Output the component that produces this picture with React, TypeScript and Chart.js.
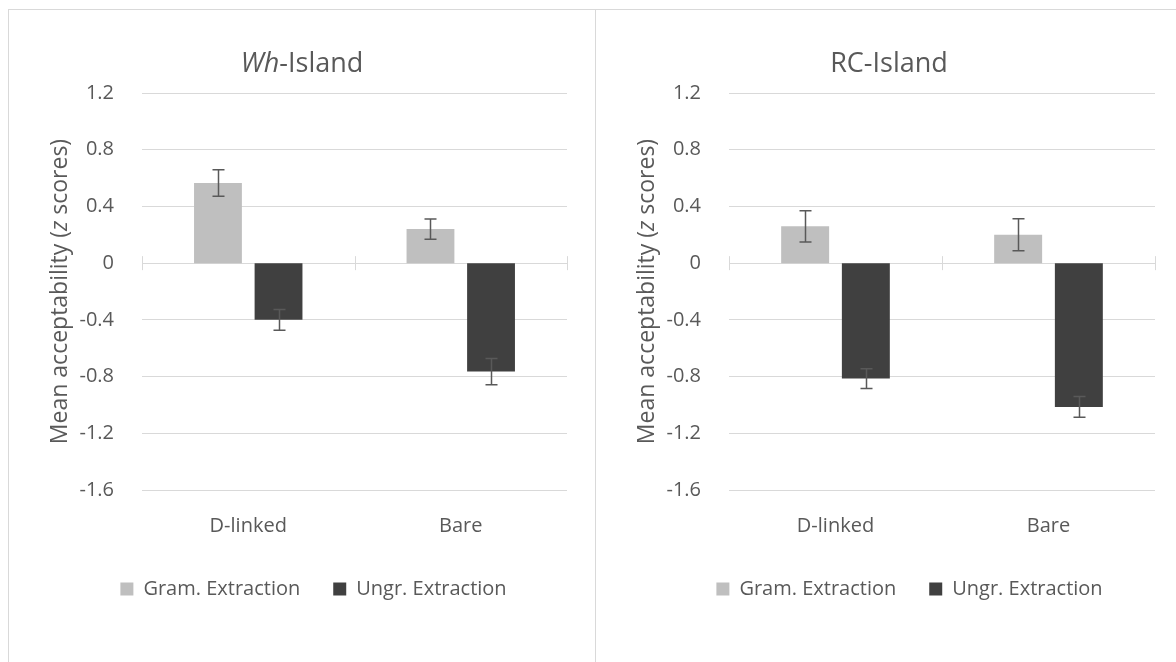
import React, { useEffect, useRef } from 'react';
import { Chart, registerables } from 'chart.js';

Chart.register(...registerables);

// ---------- data ----------
const categories = ['D-linked', 'Bare'];
const seriesLabels = ['Gram. Extraction', 'Ungr. Extraction'];
const seriesColors = ['#bfbfbf', '#404040'];

const whGram = [0.565, 0.24];
const whGramErr = [0.094, 0.072];
const whUngr = [-0.4, -0.765];
const whUngrErr = [0.073, 0.093];

const rcGram = [0.26, 0.2];
const rcGramErr = [0.11, 0.113];
const rcUngr = [-0.814, -1.014];
const rcUngrErr = [0.07, 0.073];

const yMin = -1.6;
const yMax = 1.2;
const yStep = 0.4;

const whTitle = [{ text: 'Wh', italic: true }, { text: '-Island' }];
const rcTitle = [{ text: 'RC-Island' }];
const yTitle = [{ text: 'Mean acceptability (' }, { text: 'z', italic: true }, { text: ' scores)' }];

// ---------- styles ----------
const FONT = "'Open Sans', sans-serif";
const TEXT = '#595959';
const GRID = '#d9d9d9';
const CANVAS_W = 588;
const CANVAS_H = 653;
const AREA_LEFT = 134;
const AREA_TOP = 84;
const AREA_BOTTOM = 481;

type Seg = { text: string; italic?: boolean };

function drawRich(ctx: CanvasRenderingContext2D, segs: Seg[], size: number, cx: number, cy: number) {
  const fonts = segs.map((s) => `${s.italic ? 'italic ' : ''}${size}px ${FONT}`);
  let total = 0;
  const widths = segs.map((s, i) => {
    ctx.font = fonts[i];
    const w = ctx.measureText(s.text).width;
    total += w;
    return w;
  });
  let x = cx - total / 2;
  ctx.textAlign = 'left';
  ctx.textBaseline = 'middle';
  ctx.fillStyle = TEXT;
  segs.forEach((s, i) => {
    ctx.font = fonts[i];
    ctx.fillText(s.text, x, cy);
    x += widths[i];
  });
}

type PanelProps = {
  left: number;
  title: Seg[];
  gram: number[];
  gramErr: number[];
  ungr: number[];
  ungrErr: number[];
  padRight: number;
  legendX: number;
  legendY: number;
};

function Panel(props: PanelProps) {
  const ref = useRef<HTMLCanvasElement | null>(null);

  useEffect(() => {
    if (!ref.current) return;
    const errors = [props.gramErr, props.ungrErr];

    const decor = {
      id: 'decor',
      afterLayout(chart: any) {
        const lg = chart.legend;
        if (!lg) return;
        const dx = props.legendX - (lg.left + lg.right) / 2;
        lg.left += dx;
        lg.right += dx;
        const pad = lg.options.labels.padding;
        const ih = Math.max(lg.options.labels.font.size || 20, lg.options.labels.boxHeight || 13);
        const h = lg.bottom - lg.top;
        lg.top = props.legendY - pad - ih / 2;
        lg.bottom = lg.top + h;
      },
      beforeDatasetsDraw(chart: any) {
        const ctx = chart.ctx;
        const xs = chart.scales.x;
        const ys = chart.scales.y;
        const y0 = ys.getPixelForValue(0);
        const n = categories.length;
        const half = (xs.getPixelForValue(1) - xs.getPixelForValue(0)) / 2;
        ctx.save();
        ctx.strokeStyle = GRID;
        ctx.lineWidth = 1;
        for (let i = 0; i <= n; i++) {
          const x = Math.round(xs.getPixelForValue(0) - half + i * 2 * half) + 0.5;
          ctx.beginPath();
          ctx.moveTo(x, y0 - 7);
          ctx.lineTo(x, y0 + 7);
          ctx.stroke();
        }
        ctx.restore();
      },
      afterDatasetsDraw(chart: any) {
        const ctx = chart.ctx;
        const ys = chart.scales.y;
        ctx.save();
        ctx.strokeStyle = '#595959';
        ctx.lineWidth = 1.5;
        chart.data.datasets.forEach((ds: any, di: number) => {
          const meta = chart.getDatasetMeta(di);
          meta.data.forEach((el: any, j: number) => {
            const v = ds.data[j];
            const e = errors[di][j];
            const yt = ys.getPixelForValue(v + e);
            const yb = ys.getPixelForValue(v - e);
            const x = Math.round(el.x) + 0.5;
            ctx.beginPath();
            ctx.moveTo(x, yt);
            ctx.lineTo(x, yb);
            ctx.moveTo(x - 6, yt);
            ctx.lineTo(x + 6, yt);
            ctx.moveTo(x - 6, yb);
            ctx.lineTo(x + 6, yb);
            ctx.stroke();
          });
        });
        ctx.restore();
      },
      afterDraw(chart: any) {
        const ctx = chart.ctx;
        ctx.save();
        drawRich(ctx, props.title, 27, chart.width / 2, 55);
        ctx.translate(52, (chart.chartArea.top + chart.chartArea.bottom) / 2);
        ctx.rotate(-Math.PI / 2);
        drawRich(ctx, yTitle, 23, 0, 0);
        ctx.restore();
      },
    };

    const chart = new Chart(ref.current, {
      type: 'bar',
      data: {
        labels: categories,
        datasets: [
          {
            label: seriesLabels[0],
            data: props.gram,
            backgroundColor: seriesColors[0],
            borderWidth: 0,
            categoryPercentage: 0.57,
            barPercentage: 0.79,
          },
          {
            label: seriesLabels[1],
            data: props.ungr,
            backgroundColor: seriesColors[1],
            borderWidth: 0,
            categoryPercentage: 0.57,
            barPercentage: 0.79,
          },
        ],
      },
      options: {
        responsive: false,
        animation: false,
        devicePixelRatio: 1,
        layout: { padding: { top: AREA_TOP, left: 0, right: props.padRight, bottom: 0 } },
        plugins: {
          title: { display: false },
          tooltip: { enabled: false },
          legend: {
            display: true,
            position: 'bottom',
            labels: {
              boxWidth: 13,
              boxHeight: 13,
              padding: 33,
              color: TEXT,
              font: { family: FONT, size: 20 },
            },
          },
        },
        scales: {
          x: {
            grid: { display: false },
            border: { display: false },
            ticks: { color: TEXT, font: { family: FONT, size: 20 }, padding: 16 },
            afterFit: (s: any) => {
              const lh = s.chart.legend ? s.chart.legend.height : 0;
              s.height = s.chart.height - AREA_BOTTOM - lh;
            },
          },
          y: {
            min: yMin,
            max: yMax,
            grid: { color: GRID, lineWidth: 1, drawTicks: false },
            border: { display: false },
            ticks: {
              stepSize: yStep,
              padding: 28,
              color: TEXT,
              font: { family: FONT, size: 20 },
              callback: (v: any) => (Math.abs(Number(v)) < 1e-9 ? '0' : Number(v).toFixed(1)),
            },
            afterFit: (s: any) => {
              s.width = AREA_LEFT;
            },
          },
        },
      },
      plugins: [decor],
    } as any);

    return () => chart.destroy();
  }, []);

  return (
    <div style={{ position: 'absolute', left: props.left, top: 9, width: CANVAS_W, height: 700 }}>
      <canvas
        ref={ref}
        width={CANVAS_W}
        height={CANVAS_H}
        style={{ position: 'absolute', left: 0, top: 0, width: CANVAS_W, height: CANVAS_H }}
      />
      <div
        style={{
          position: 'absolute',
          left: 0,
          top: 0,
          right: 0,
          bottom: 0,
          border: `1px solid ${GRID}`,
          boxSizing: 'border-box',
          pointerEvents: 'none',
        }}
      />
    </div>
  );
}

export default function App() {
  return (
    <div
      style={{
        position: 'fixed',
        left: 0,
        top: 0,
        width: 1176,
        height: 662,
        overflow: 'hidden',
        background: '#fff',
      }}
    >
      <Panel
        left={8}
        title={whTitle}
        gram={whGram}
        gramErr={whGramErr}
        ungr={whUngr}
        ungrErr={whUngrErr}
        padRight={29}
        legendX={305.5}
        legendY={580}
      />
      <Panel
        left={595}
        title={rcTitle}
        gram={rcGram}
        gramErr={rcGramErr}
        ungr={rcUngr}
        ungrErr={rcUngrErr}
        padRight={28}
        legendX={314.5}
        legendY={580}
      />
    </div>
  );
}
